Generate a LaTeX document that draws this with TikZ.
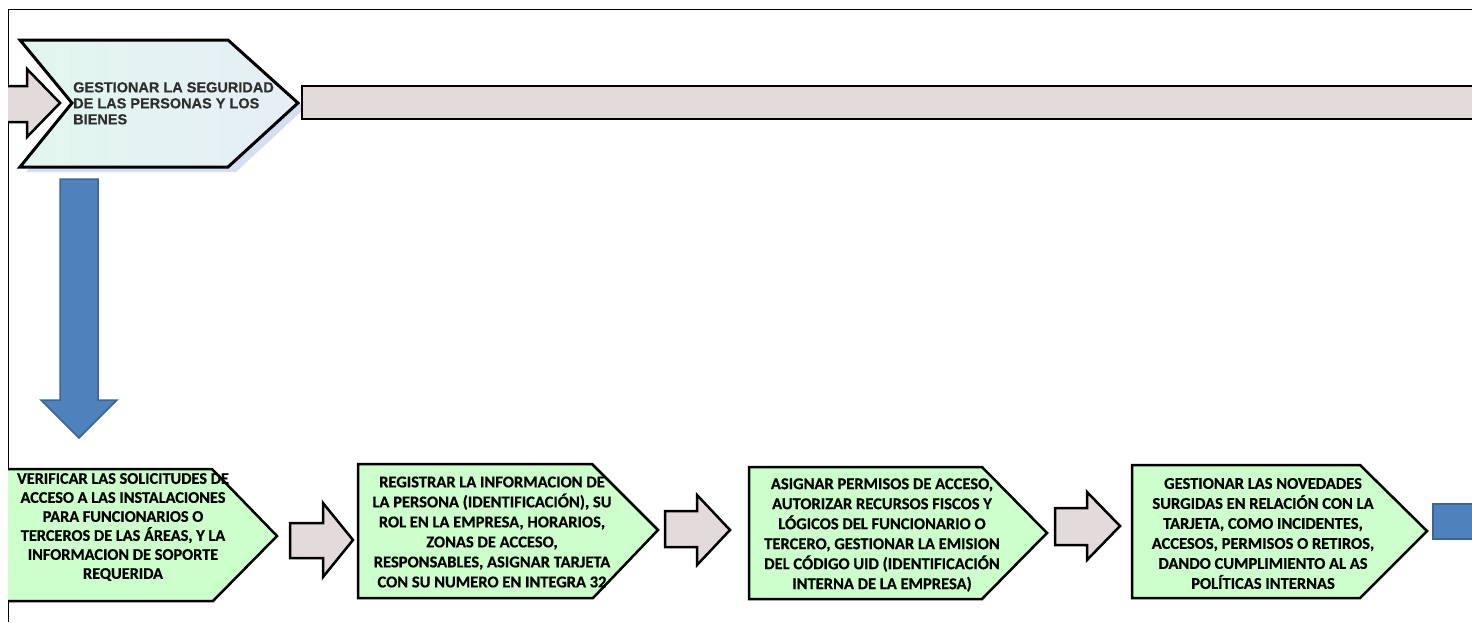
\documentclass[tikz,border=0pt]{standalone}
\usepackage{fontspec}
\setmainfont{Carlito}
\newfontfamily\boxfont{Carlito Bold}[FakeBold=0.6]
\newfontfamily\arialfont{Liberation Sans Bold}[FakeBold=0.4]
\definecolor{arrowgray}{HTML}{E3DBDB}
\definecolor{boxgreen}{HTML}{CCFFCC}
\definecolor{mintA}{HTML}{E2F7EE}
\definecolor{mintB}{HTML}{E6EEF6}
\definecolor{shadowblue}{HTML}{D5DFF0}
\definecolor{blueA}{HTML}{4F81BD}
\definecolor{blueB}{HTML}{3A6595}
\definecolor{darktext}{HTML}{2E2E2E}
\begin{document}
\begin{tikzpicture}[x=1pt,y=-1pt,
  graybar/.style={fill=arrowgray, draw=black, line width=2.5pt, line join=miter},
  greenbox/.style={fill=boxgreen, draw=black, line width=2.5pt, line join=miter},
  bluearrow/.style={fill=blueA, draw=blueB, line width=1.5pt, line join=miter},
  boxtext/.style={align=center, inner sep=0pt, text=black,
    font=\boxfont\fontsize{16.5}{20}\selectfont},
  toptext/.style={align=left, inner sep=0pt, text=darktext,
    font=\arialfont\fontsize{14.5}{16}\selectfont}
]
\useasboundingbox (0,0) rectangle (1472,622);

% frame
\draw[line width=1pt] (8,622) -- (8,9.5) -- (1472,9.5);

% top row
\draw[graybar] (8,86) -- (27,86) -- (27,69) -- (60,103) -- (27,137) -- (27,122) -- (8,122);
\fill[shadowblue] (26,45) -- (234,45) -- (305,108) -- (236,172) -- (26,172) -- (78,108) -- cycle;
\draw[left color=mintA, right color=mintB, draw=black, line width=3pt, line join=miter]
  (20,40) -- (228,40) -- (298,103) -- (228,167) -- (20,167) -- (72,103) -- cycle;
\node[toptext, anchor=north west] (t0) at (73,82)
  {GESTIONAR LA SEGURIDAD\\DE LAS PERSONAS Y LOS\\BIENES};
\draw[graybar] (1480,86) -- (302,86) -- (302,119) -- (1480,119);

% down arrow
\draw[bluearrow] (60,179) -- (98,179) -- (98,400) -- (117,400) -- (79,438) -- (41,400) -- (60,400) -- cycle;

% bottom row
\draw[greenbox] (8,469) -- (212,469) -- (277,536) -- (213,601) -- (8,601);
\node[boxtext, font=\boxfont\fontsize{16.3}{19}\selectfont] (t1) at (123,527)
  {VERIFICAR LAS SOLICITUDES DE\\ACCESO A LAS INSTALACIONES\\PARA FUNCIONARIOS O\\TERCEROS DE LAS ÁREAS, Y LA\\INFORMACION DE SOPORTE\\REQUERIDA};

\draw[graybar] (290,523) -- (323,523) -- (323,503) -- (353,540) -- (323,577) -- (323,558) -- (290,558) -- cycle;

\draw[greenbox] (358,464) -- (592,464) -- (658,530) -- (593,598) -- (358,598) -- cycle;
\node[boxtext] (t2) at (492,532)
  {REGISTRAR LA INFORMACION DE\\LA PERSONA (IDENTIFICACIÓN), SU\\ROL EN LA EMPRESA, HORARIOS,\\ZONAS DE ACCESO,\\RESPONSABLES, ASIGNAR TARJETA\\CON SU NUMERO EN INTEGRA 32};

\draw[graybar] (665,511) -- (697,511) -- (697,495) -- (730,530) -- (697,565) -- (697,547) -- (665,547) -- cycle;

\draw[greenbox] (749,467) -- (982,467) -- (1047,533) -- (982,599) -- (749,599) -- cycle;
\node[boxtext] (t3) at (882,535)
  {ASIGNAR PERMISOS DE ACCESO,\\AUTORIZAR RECURSOS FISCOS Y\\LÓGICOS DEL FUNCIONARIO O\\TERCERO, GESTIONAR LA EMISION\\DEL CÓDIGO UID (IDENTIFICACIÓN\\INTERNA DE LA EMPRESA)};

\draw[graybar] (1055,508) -- (1087,508) -- (1087,492) -- (1120,526) -- (1087,560) -- (1087,545) -- (1055,545) -- cycle;

\draw[greenbox] (1132,465) -- (1360,465) -- (1427,531) -- (1360,598) -- (1132,598) -- cycle;
\node[boxtext] (t4) at (1263,533.5)
  {GESTIONAR LAS NOVEDADES\\SURGIDAS EN RELACIÓN CON LA\\TARJETA, COMO INCIDENTES,\\ACCESOS, PERMISOS O RETIROS,\\DANDO CUMPLIMIENTO AL AS\\POLÍTICAS INTERNAS};

\draw[bluearrow] (1485,504) -- (1433,504) -- (1433,539) -- (1485,539);
\end{tikzpicture}
\end{document}
